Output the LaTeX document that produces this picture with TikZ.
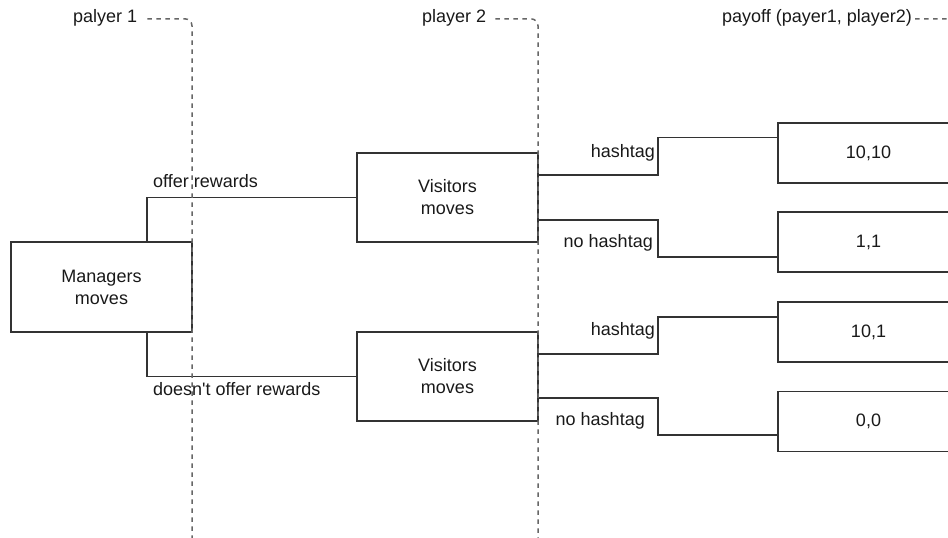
\documentclass[tikz,border=0pt]{standalone}
\usepackage{fontspec}
\setmainfont{Liberation Sans}[Ligatures=TeXOff]
\begin{document}
\begin{tikzpicture}[x=1pt,y=-1pt,
  txt/.style={font=\fontsize{18}{22}\selectfont, text=black!90},
  box/.style={txt, draw=black!80, line width=1.4pt, minimum width=181pt, inner sep=0pt, align=center},
  gamebox/.style={box, minimum height=89pt},
  paybox/.style={box, minimum height=60pt},
  wire/.style={draw=black!80, line width=1.4pt},
  guide/.style={draw=black!60, line width=1.5pt, dash pattern=on 4.5pt off 4.5pt, rounded corners=7pt},
  lbl/.style={txt, inner sep=0pt}]
\useasboundingbox (0,0) rectangle (948,538);
\clip (0,0) rectangle (948,538);

% decision boxes
\node[box, minimum height=90pt] (mgr) at (101.5,287) {Managers\\moves};
\node[gamebox] (v1) at (447.5,197.5) {Visitors\\moves};
\node[gamebox] (v2) at (447.5,376.5) {Visitors\\moves};

% payoff boxes
\node[paybox] (p1) at (868.5,153) {10,10};
\node[paybox] (p2) at (868.5,242) {1,1};
\node[paybox] (p3) at (868.5,332) {10,1};
\node[paybox] (p4) at (868.5,421.5) {0,0};

% column headers
\node[lbl, anchor=base west] (h1) at (73,22) {palyer 1};
\node[lbl, anchor=base west] (h2) at (422,22) {player 2};
\node[lbl, anchor=base west] (h3) at (722,22) {payoff (payer1, player2)};
\coordinate (g1) at (192,538);
\coordinate (g2) at (538,538);
\coordinate (g3) at (960,19);

% manager branches
\draw[wire] ([xshift=45.5pt]mgr.north) |- (v1.west);
\draw[wire] ([xshift=45.5pt]mgr.south) |- (v2.west);
\node[lbl, anchor=base west] (l1) at (153,187) {offer rewards};
\node[lbl, anchor=base west] (l2) at (153,395) {doesn't offer rewards};

% visitor branches
\coordinate (k) at (658,0);
\coordinate (a1) at ([yshift=22.5pt]v1.east);
\coordinate (a2) at ([yshift=-22.5pt]v1.east);
\coordinate (a3) at ([yshift=22.5pt]v2.east);
\coordinate (a4) at ([yshift=-21.5pt]v2.east);
\coordinate (b1) at ([yshift=15.5pt]p1.west);
\coordinate (b2) at ([yshift=-15pt]p2.west);
\coordinate (b3) at ([yshift=15pt]p3.west);
\coordinate (b4) at ([yshift=-13.5pt]p4.west);
\draw[wire] (a1) -| (k |- b1) -- (b1);
\draw[wire] (a2) -| (k |- b2) -- (b2);
\draw[wire] (a3) -| (k |- b3) -- (b3);
\draw[wire] (a4) -| (k |- b4) -- (b4);
\node[lbl, anchor=base east] (e1) at (655,157) {hashtag};
\node[lbl, anchor=base east] (e2) at (653,247) {no hashtag};
\node[lbl, anchor=base east] (e3) at (655,335) {hashtag};
\node[lbl, anchor=base east] (e4) at (645,425) {no hashtag};

% dashed guides
\draw[guide] ([shift={(10pt,-1.5pt)}]h1.east) -| (g1);
\draw[guide] ([shift={(9pt,-1.5pt)}]h2.east) -| (g2);
\draw[guide] ([shift={(3pt,-1.5pt)}]h3.east) -- (g3);
\end{tikzpicture}
\end{document}
